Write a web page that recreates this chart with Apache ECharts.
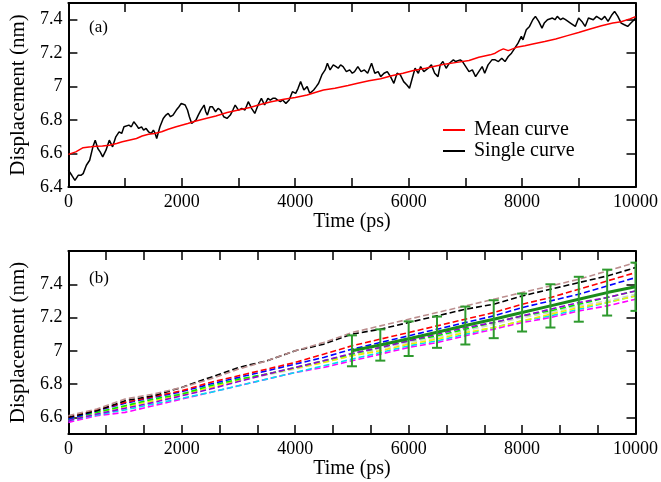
<!DOCTYPE html>
<html>
<head>
<meta charset="utf-8">
<script src="https://cdn.jsdelivr.net/npm/echarts@6/dist/echarts.min.js"></script>
<style>
html,body{margin:0;padding:0;background:#fff;}
#chart{width:661px;height:482px;}
</style>
</head>
<body>
<div id="chart"></div>
<script>
// ---------- Panel (a) data ----------
const singleCurve = [[0,6.50],[17,6.49],[60,6.47],[115,6.44],[173,6.47],[220,6.47],[260,6.48],[317,6.53],[375,6.56],[432,6.64],[473,6.68],[519,6.63],[560,6.61],[605,6.58],[663,6.62],[721,6.68],[779,6.64],[836,6.70],[894,6.73],[940,6.72],[980,6.76],[1067,6.77],[1110,6.76],[1153,6.79],[1200,6.77],[1240,6.75],[1290,6.76],[1326,6.74],[1370,6.75],[1413,6.73],[1460,6.72],[1499,6.74],[1530,6.72],[1557,6.69],[1614,6.76],[1672,6.81],[1720,6.83],[1759,6.84],[1800,6.82],[1845,6.83],[1903,6.86],[1950,6.88],[1990,6.90],[2059,6.89],[2100,6.86],[2133,6.82],[2174,6.78],[2210,6.79],[2249,6.80],[2290,6.83],[2336,6.86],[2393,6.89],[2422,6.85],[2451,6.83],[2497,6.88],[2537,6.88],[2595,6.85],[2640,6.87],[2682,6.86],[2739,6.82],[2797,6.81],[2855,6.83],[2900,6.86],[2941,6.89],[2999,6.86],[3057,6.87],[3114,6.86],[3172,6.91],[3230,6.87],[3287,6.84],[3345,6.89],[3403,6.93],[3460,6.89],[3518,6.93],[3560,6.92],[3604,6.93],[3650,6.93],[3691,6.92],[3740,6.91],[3777,6.92],[3835,6.90],[3893,6.92],[3950,6.97],[4008,6.96],[4050,6.99],[4095,7.03],[4152,6.98],[4210,7.00],[4256,6.96],[4290,6.97],[4325,6.98],[4370,7.00],[4412,7.02],[4469,7.07],[4527,7.10],[4567,7.14],[4614,7.10],[4671,7.13],[4720,7.12],[4758,7.11],[4800,7.13],[4844,7.12],[4902,7.09],[4960,7.10],[5006,7.08],[5046,7.09],[5104,7.12],[5161,7.09],[5219,7.10],[5277,7.08],[5346,7.14],[5403,7.08],[5462,7.09],[5507,7.06],[5566,7.08],[5623,7.09],[5680,7.06],[5739,7.02],[5796,7.08],[5853,7.07],[5912,7.03],[5969,7.01],[6015,6.99],[6055,7.04],[6113,7.11],[6171,7.08],[6211,7.12],[6268,7.09],[6344,7.11],[6401,7.13],[6459,7.08],[6517,7.06],[6557,7.13],[6604,7.15],[6661,7.11],[6718,7.14],[6788,7.16],[6830,7.15],[6863,7.14],[6910,7.16],[6950,7.15],[7007,7.12],[7064,7.09],[7123,7.10],[7180,7.06],[7237,7.09],[7296,7.12],[7341,7.08],[7400,7.13],[7469,7.16],[7526,7.16],[7583,7.15],[7641,7.17],[7699,7.15],[7756,7.18],[7814,7.20],[7872,7.23],[7929,7.26],[7987,7.30],[8016,7.28],[8074,7.34],[8131,7.36],[8189,7.40],[8235,7.42],[8293,7.39],[8351,7.35],[8391,7.38],[8448,7.40],[8535,7.41],[8580,7.40],[8621,7.42],[8679,7.40],[8720,7.41],[8766,7.40],[8810,7.39],[8853,7.38],[8939,7.36],[8997,7.41],[9054,7.39],[9112,7.36],[9170,7.41],[9256,7.40],[9313,7.42],[9360,7.41],[9400,7.40],[9458,7.42],[9516,7.39],[9585,7.43],[9631,7.45],[9689,7.42],[9747,7.38],[9804,7.37],[9862,7.36],[9919,7.38],[9977,7.40],[10000,7.41]];
const meanCurve = [[0,6.595],[130,6.61],[260,6.635],[400,6.64],[490,6.644],[600,6.645],[721,6.65],[850,6.66],[950,6.67],[1067,6.68],[1200,6.69],[1300,6.705],[1413,6.715],[1520,6.72],[1644,6.73],[1760,6.745],[1900,6.76],[2105,6.78],[2250,6.795],[2422,6.81],[2600,6.825],[2800,6.845],[2999,6.86],[3200,6.875],[3400,6.895],[3576,6.91],[3800,6.925],[4000,6.935],[4210,6.95],[4350,6.965],[4498,6.98],[4700,6.99],[4931,7.007],[5100,7.02],[5300,7.035],[5507,7.047],[5700,7.065],[5900,7.08],[6085,7.096],[6300,7.11],[6500,7.125],[6661,7.136],[6850,7.145],[7064,7.156],[7237,7.176],[7439,7.19],[7526,7.20],[7600,7.215],[7670,7.226],[7756,7.215],[7901,7.235],[8050,7.245],[8189,7.255],[8400,7.27],[8593,7.285],[8800,7.305],[8997,7.324],[9200,7.345],[9400,7.364],[9600,7.38],[9747,7.388],[9900,7.405],[10000,7.418]];

// ---------- Panel (b) data ----------
const runTimes = [0,500,1000,1500,2000,2500,3000,3500,4000,4500,5000,5500,6000,6500,7000,7500,8000,8500,9000,9500,10000];
const runBlack   = [6.60,6.64,6.70,6.73,6.78,6.84,6.90,6.94,7.00,7.04,7.10,7.13,7.17,7.21,7.25,7.28,7.33,7.37,7.41,7.45,7.50];
const runBrown   = [6.61,6.65,6.71,6.74,6.78,6.83,6.89,6.94,7.00,7.05,7.11,7.15,7.19,7.23,7.27,7.31,7.35,7.39,7.43,7.48,7.53];
const runRed     = [6.60,6.645,6.69,6.725,6.76,6.81,6.85,6.89,6.93,6.98,7.03,7.07,7.11,7.15,7.19,7.23,7.28,7.32,7.37,7.42,7.47];
const runBlue    = [6.59,6.64,6.685,6.72,6.755,6.80,6.84,6.88,6.92,6.96,7.01,7.05,7.09,7.13,7.17,7.21,7.26,7.30,7.34,7.39,7.44];
const runGreen   = [6.59,6.63,6.67,6.71,6.74,6.79,6.83,6.86,6.90,6.94,6.98,7.02,7.06,7.09,7.13,7.17,7.21,7.24,7.28,7.32,7.36];
const runYellow  = [6.59,6.63,6.665,6.70,6.735,6.78,6.825,6.86,6.895,6.93,6.97,7.00,7.04,7.07,7.11,7.14,7.18,7.22,7.26,7.29,7.33];
const runGrey    = [6.60,6.635,6.67,6.71,6.745,6.78,6.82,6.855,6.89,6.93,6.97,7.01,7.05,7.08,7.12,7.16,7.20,7.23,7.27,7.30,7.34];
const runViolet  = [6.58,6.62,6.655,6.69,6.73,6.77,6.815,6.86,6.90,6.94,6.985,7.02,7.06,7.10,7.14,7.17,7.21,7.25,7.29,7.32,7.36];
const runCyan    = [6.58,6.615,6.645,6.68,6.715,6.75,6.79,6.83,6.87,6.91,6.95,6.99,7.03,7.06,7.10,7.14,7.18,7.21,7.25,7.29,7.33];
const runMagenta = [6.57,6.61,6.63,6.67,6.71,6.75,6.79,6.83,6.87,6.90,6.94,6.98,7.02,7.05,7.09,7.13,7.17,7.20,7.24,7.27,7.31];

const avgTimes  = [5000,5500,6000,6500,7000,7500,8000,8500,9000,9500,10000];
const avgValues = [7.00,7.035,7.073,7.112,7.152,7.19,7.23,7.27,7.31,7.35,7.385];
const avgErrors = [0.093,0.094,0.104,0.094,0.114,0.114,0.114,0.13,0.135,0.138,0.145];

const xTicks = [0,2000,4000,6000,8000,10000];
const yTicksA = [6.4,6.6,6.8,7.0,7.2,7.4];
const yTicksB = [6.6,6.8,7.0,7.2,7.4];

const FONT = 'Liberation Serif';
const chart = echarts.init(document.getElementById('chart'));

function xMain(gridIndex, split) {
  return {
    type: 'value', gridIndex: gridIndex, min: 0, max: 10000, interval: 2000,
    position: 'bottom',
    name: 'Time (ps)', nameLocation: 'middle', nameGap: 21,
    nameTextStyle: {fontFamily: FONT, fontSize: 20, color: '#000'},
    axisLine: {show: true, onZero: false, lineStyle: {color: '#000', width: 2}},
    axisTick: {show: true, inside: true, length: 9, lineStyle: {color: '#000', width: 1.5}},
    minorTick: {show: true, splitNumber: split, length: 9, lineStyle: {color: '#000', width: 1.5}},
    axisLabel: {fontFamily: FONT, fontSize: 18, color: '#000', margin: 6,
      formatter: function (v) { return String(Math.round(v)); }},
    splitLine: {show: false}, minorSplitLine: {show: false}
  };
}
function xMirror(gridIndex, split) {
  return {
    type: 'value', gridIndex: gridIndex, min: 0, max: 10000, interval: 2000,
    position: 'top',
    axisLine: {show: true, onZero: false, lineStyle: {color: '#000', width: 2}},
    axisTick: {show: true, inside: true, length: 9, lineStyle: {color: '#000', width: 1.5}},
    minorTick: {show: true, splitNumber: split, length: 9, lineStyle: {color: '#000', width: 1.5}},
    axisLabel: {show: false},
    splitLine: {show: false}
  };
}
function yMain(gridIndex, min, max, ticks) {
  return {
    type: 'value', gridIndex: gridIndex, min: min, max: max,
    position: 'left',
    name: 'Displacement (nm)', nameLocation: 'middle', nameGap: 35,
    nameTextStyle: {fontFamily: FONT, fontSize: 21, color: '#000'},
    axisLine: {show: true, onZero: false, lineStyle: {color: '#000', width: 2}},
    axisTick: {show: true, inside: true, length: 9, customValues: ticks, lineStyle: {color: '#000', width: 1.5}},
    axisLabel: {fontFamily: FONT, fontSize: 18, color: '#000', margin: 6, customValues: ticks,
      formatter: function (v) { return String(Math.round(v * 10) / 10); }},
    splitLine: {show: false}
  };
}
function yMirror(gridIndex, min, max, ticks) {
  return {
    type: 'value', gridIndex: gridIndex, min: min, max: max,
    position: 'right',
    axisLine: {show: true, onZero: false, lineStyle: {color: '#000', width: 2}},
    axisTick: {show: true, inside: true, length: 9, customValues: ticks, lineStyle: {color: '#000', width: 1.5}},
    axisLabel: {show: false},
    splitLine: {show: false}
  };
}

function runSeries(values, color) {
  return {
    type: 'line', xAxisIndex: 2, yAxisIndex: 2,
    data: runTimes.map(function (t, i) { return [t, values[i]]; }),
    showSymbol: false, symbol: 'none', silent: true,
    lineStyle: {color: color, width: 1.6, type: [6, 3]},
    z: 2
  };
}

const option = {
  animation: false,
  backgroundColor: '#fff',
  textStyle: {fontFamily: FONT},
  grid: [
    {left: 60, right: 23, top: 3, height: 184},
    {left: 60, right: 23, top: 251, height: 183}
  ],
  xAxis: [xMain(0, 2), xMirror(0, 2), xMain(1, 3), xMirror(1, 3)],
  yAxis: [yMain(0, 6.4, 7.5, yTicksA), yMirror(0, 6.4, 7.5, yTicksA),
          yMain(1, 6.5, 7.6, yTicksB), yMirror(1, 6.5, 7.6, yTicksB)],
  legend: {
    data: ['Mean curve', 'Single curve'],
    orient: 'vertical', left: 443, top: 120, padding: 0, itemGap: 1,
    itemWidth: 22, itemHeight: 2, icon: 'rect', itemStyle: {borderWidth: 0},
    textStyle: {fontFamily: FONT, fontSize: 20, color: '#000', padding: [0, 0, 0, 4], lineHeight: 20}
  },
  graphic: [
    {type: 'text', left: 89, top: 19, style: {text: '(a)', font: '17px "Liberation Serif"', fill: '#000'}},
    {type: 'text', left: 89, top: 270, style: {text: '(b)', font: '17px "Liberation Serif"', fill: '#000'}}
  ],
  series: [
    {name: 'Mean curve', type: 'line', xAxisIndex: 0, yAxisIndex: 0, data: meanCurve,
     showSymbol: false, symbol: 'none', lineStyle: {color: '#ff0000', width: 1.5}, itemStyle: {color: '#ff0000'}, z: 3},
    {name: 'Single curve', type: 'line', xAxisIndex: 0, yAxisIndex: 0, data: singleCurve,
     showSymbol: false, symbol: 'none', lineStyle: {color: '#000000', width: 1.5}, itemStyle: {color: '#000000'}, z: 2},
    runSeries(runGrey, '#d2d2d2'),
    runSeries(runMagenta, '#ff00ff'),
    runSeries(runCyan, '#00e0f0'),
    runSeries(runYellow, '#f0f000'),
    runSeries(runGreen, '#00ee00'),
    runSeries(runViolet, '#9400d3'),
    runSeries(runBlue, '#0000ff'),
    runSeries(runRed, '#ff0000'),
    runSeries(runBlack, '#000000'),
    runSeries(runBrown, '#bc8f8f'),
    {type: 'line', xAxisIndex: 2, yAxisIndex: 2,
     data: avgTimes.map(function (t, i) { return [t, avgValues[i]]; }),
     showSymbol: false, symbol: 'none', lineStyle: {color: '#1a8c1a', width: 3}, z: 5},
    {type: 'custom', xAxisIndex: 2, yAxisIndex: 2, clip: true, z: 6,
     data: avgTimes.map(function (t, i) { return [t, avgValues[i], avgErrors[i]]; }),
     renderItem: function (params, api) {
       const t = api.value(0), c = api.value(1), e = api.value(2);
       const hi = api.coord([t, c + e]);
       const lo = api.coord([t, c - e]);
       const w = 5;
       const st = {stroke: '#2e9a2e', lineWidth: 2};
       return {type: 'group', children: [
         {type: 'line', shape: {x1: hi[0], y1: hi[1], x2: lo[0], y2: lo[1]}, style: st},
         {type: 'line', shape: {x1: hi[0] - w, y1: hi[1], x2: hi[0] + w, y2: hi[1]}, style: st},
         {type: 'line', shape: {x1: lo[0] - w, y1: lo[1], x2: lo[0] + w, y2: lo[1]}, style: st}
       ]};
     }}
  ]
};
chart.setOption(option);
</script>
</body>
</html>
